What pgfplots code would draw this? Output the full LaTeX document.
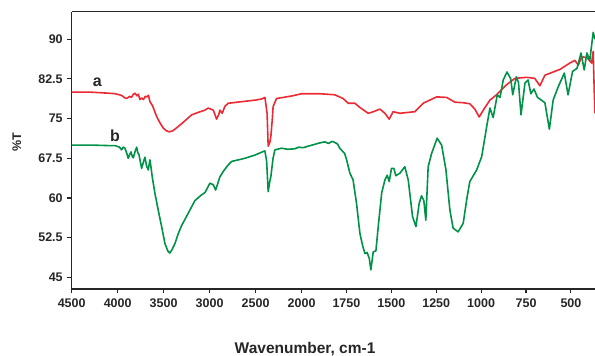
\documentclass[border=0pt]{standalone}
\usepackage{fontspec}
\setmainfont{Liberation Sans}
\usepackage{pgfplots}
\usepackage{pgfplotstable}
\pgfplotsset{compat=1.18}
\definecolor{cred}{RGB}{236,42,52}
\definecolor{cgreen}{RGB}{0,146,72}

\pgfplotstableread{
wn T
4500 80.0
4300 80.0
4100 79.8
4029 79.7
3960 79.4
3920 78.9
3902 78.8
3870 79.2
3850 79.0
3830 79.6
3812 79.8
3790 79.3
3775 79.6
3758 78.6
3740 78.9
3720 78.6
3700 79.2
3685 79.1
3665 79.4
3649 78.2
3620 77.4
3576 75.4
3540 74.2
3504 73.2
3470 72.7
3439 72.5
3400 72.7
3341 73.5
3280 74.4
3196 75.7
3120 76.2
3051 76.6
3015 77.0
2960 76.6
2924 74.9
2900 75.8
2888 76.6
2863 76.0
2834 77.3
2798 77.9
2700 78.1
2600 78.3
2500 78.5
2435 78.7
2398 79.0
2375 76.0
2363 69.8
2345 70.5
2334 71.6
2320 74.5
2309 77.3
2272 78.8
2200 79.0
2100 79.3
2000 79.7
1900 79.7
1815 79.5
1769 78.8
1740 77.9
1703 77.9
1675 77.1
1629 76.0
1600 76.3
1564 76.8
1536 76.0
1512 74.9
1490 76.3
1452 76.0
1400 76.2
1369 76.3
1323 77.9
1248 79.1
1192 79.0
1146 78.1
1100 78.0
1063 77.8
1035 76.8
1011 75.3
988 76.6
951 78.5
914 79.5
858 81.4
812 82.6
747 82.8
701 82.6
673 81.2
645 83.2
561 84.3
506 85.5
478 86.0
459 85.1
440 86.7
410 86.5
385 85.5
376 87.7
370 80.0
366 76.0
}\reddata

\pgfplotstableread{
wn T
4500 70.0
4300 70.0
4100 69.9
4029 69.9
3980 69.6
3957 69.1
3940 69.6
3921 69.4
3900 68.4
3885 67.5
3870 68.2
3855 68.7
3840 67.8
3830 67.6
3810 68.8
3793 69.6
3780 68.5
3768 68.2
3755 67.0
3739 65.6
3720 66.8
3703 67.7
3685 66.0
3667 65.3
3649 67.2
3635 65.5
3624 64.0
3595 60.9
3559 57.7
3522 54.6
3486 51.4
3455 50.0
3432 49.6
3410 50.2
3377 51.4
3340 53.3
3304 54.8
3233 57.1
3160 59.5
3087 60.6
3051 61.0
3020 62.0
2997 62.8
2960 62.5
2935 61.5
2910 62.8
2888 64.0
2852 65.0
2800 66.2
2761 66.9
2616 67.5
2508 68.1
2399 68.9
2380 67.0
2363 61.2
2345 63.2
2334 64.0
2310 67.5
2290 69.1
2217 69.4
2150 69.2
2073 69.3
2030 69.6
1990 69.5
1963 69.8
1930 70.1
1900 70.4
1870 70.6
1850 70.3
1830 70.7
1815 70.5
1800 70.2
1787 69.4
1760 68.4
1749 67.2
1731 64.7
1713 63.4
1694 59.0
1675 53.3
1660 51.0
1647 49.5
1635 49.7
1623 48.6
1614 46.4
1601 49.8
1586 50.0
1573 54.6
1554 60.9
1536 63.4
1523 64.3
1512 63.1
1499 65.6
1486 65.6
1475 64.2
1452 64.7
1425 65.9
1406 63.4
1382 56.5
1363 54.6
1345 59.0
1332 60.4
1319 59.5
1308 55.8
1295 65.9
1276 68.4
1245 71.3
1220 70.0
1196 65.3
1174 57.7
1156 54.3
1128 53.6
1100 55.2
1078 60.2
1063 63.1
1025 65.3
997 67.8
969 73.5
951 77.0
933 75.2
910 79.5
895 79.0
877 82.3
856 83.8
835 82.5
824 79.5
804 82.9
792 81.8
778 75.7
756 81.7
739 82.3
723 79.7
706 80.6
686 79.0
661 78.4
645 78.0
620 73.0
599 78.5
571 81.0
537 83.6
516 79.5
491 83.9
466 84.5
444 87.4
426 84.2
411 87.4
395 86.0
376 91.3
366 90.0
}\greendata

\begin{document}
\begin{tikzpicture}
\begin{axis}[
  at={(0pt,0pt)}, anchor=south west,
  scale only axis, width=523.3pt, height=277.3pt,
  x coord trafo/.code={\pgfmathparse{#1>2000 ? 2000+(#1-2000)*0.512 : #1}},
  x dir=reverse,
  xmin=366, xmax=4500,
  ymin=42.8, ymax=95.2,
  axis x line*=box, axis y line*=left,
  xtick pos=bottom, ytick pos=left,
  xtick={4500,4000,3500,3000,2500,2000,1750,1500,1250,1000,750,500},
  xticklabels={4500,4000,3500,3000,2500,2000,1750,1500,1250,1000,750,500},
  ytick={45,52.5,60,67.5,75,82.5,90},
  yticklabels={45,52.5,60,67.5,75,82.5,90},
  /pgf/number format/assume math mode=true,
  tick align=outside,
  major tick length=4.5pt,
  axis line style={line width=1.1pt, black!85},
  every tick/.style={line width=1.1pt, black!85},
  ticklabel style={font=\fontsize{12.5}{14}\selectfont\bfseries, text=black!85},
  xticklabel style={yshift=-2pt},
  yticklabel style={xshift=-1pt},
  clip mode=individual,
]
\addplot[cred, line width=1.6pt, line join=round] table[x=wn,y=T] {\reddata};
\addplot[cgreen, line width=1.6pt, line join=round] table[x=wn,y=T] {\greendata};
\node[font=\fontsize{16}{18}\selectfont\bfseries, text=black!85] at (axis cs:4220,81.9) {a};
\node[font=\fontsize{16}{18}\selectfont\bfseries, text=black!85] at (axis cs:4029,71.7) {b};
\node[anchor=base, font=\fontsize{15.5}{17}\selectfont\bfseries, text=black!85] at (axis description cs:0.446,-0.234) {Wavenumber, cm-1};
\node[rotate=90, font=\fontsize{12.5}{14}\selectfont\bfseries, text=black!85] at (axis description cs:-0.105,0.531) {\%T};
\end{axis}
\pgfresetboundingbox
\path[use as bounding box] (-71.7pt,-67pt) rectangle (523.3pt,289pt);
\end{tikzpicture}
\end{document}
